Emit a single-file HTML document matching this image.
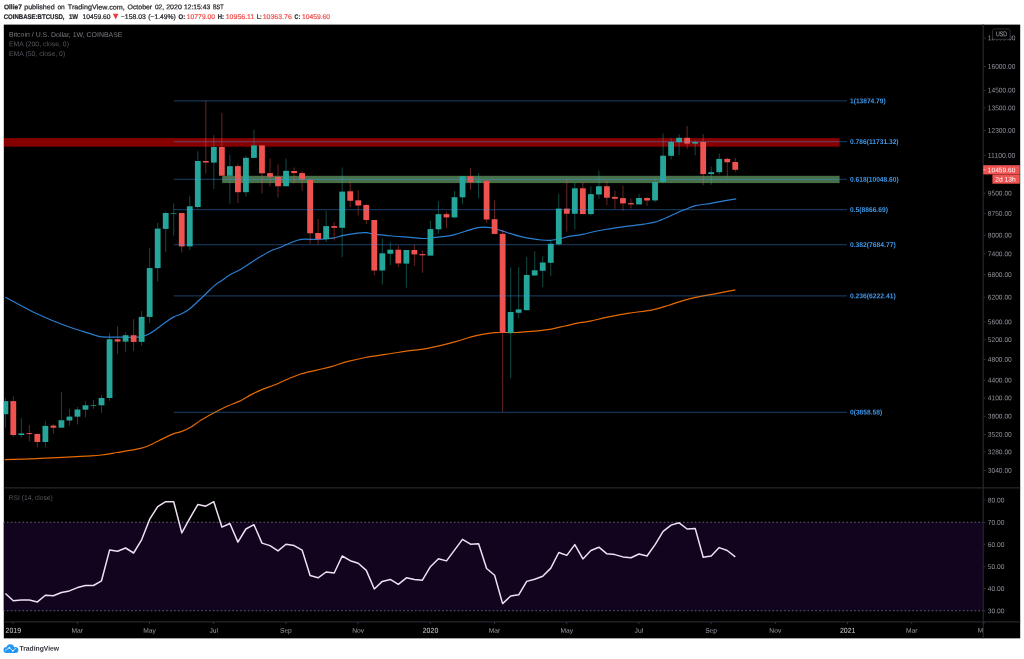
<!DOCTYPE html><html><head><meta charset="utf-8"><title>BTCUSD</title><style>
html,body{margin:0;padding:0;background:#fff}
body{width:1024px;height:659px;position:relative;overflow:hidden;font-family:"Liberation Sans",sans-serif}
#tx{position:absolute;left:0;top:0;width:1024px;height:659px;will-change:transform}
.t{position:absolute;left:0;top:0;white-space:nowrap;line-height:1;margin:0;transform-origin:0 0}

</style></head><body>
<svg width="1024" height="659" viewBox="0 0 1024 659" style="position:absolute;left:0;top:0">
<rect x="3.8" y="24.6" width="1016.4000000000001" height="613.75" fill="#000"/>
<defs><clipPath id="cp"><rect x="3.8" y="24.6" width="979.4000000000001" height="463.29999999999995"/></clipPath><clipPath id="cr"><rect x="3.8" y="487.9" width="979.4000000000001" height="133.89999999999998"/></clipPath></defs>
<rect x="3.8" y="522.3" width="979.4000000000001" height="88.40000000000009" fill="#11041e"/>
<line x1="3.8" y1="522.3" x2="983.2" y2="522.3" stroke="#675a75" stroke-width="1.05" stroke-dasharray="1.7 2.186" stroke-dashoffset="0.8"/>
<line x1="3.8" y1="610.7" x2="983.2" y2="610.7" stroke="#675a75" stroke-width="1.05" stroke-dasharray="1.7 2.186" stroke-dashoffset="0.8"/>
<g clip-path="url(#cp)">
<rect x="3.8" y="138.1" width="835.8000000000001" height="8.599999999999994" fill="#870000"/>
<rect x="222.2" y="175.8" width="617.4000000000001" height="7.299999999999983" fill="#487048"/>
<path d="M4.7,459.7 C9.1,459.5 21.6,459.1 31.2,458.8 C40.9,458.4 53.4,457.7 62.5,457.3 C71.6,456.9 79.4,456.5 85.9,456.1 C92.4,455.7 96.4,455.6 101.6,455.0 C106.8,454.4 110.7,453.6 117.2,452.5 C123.7,451.4 135.1,449.6 140.6,448.3 C146.1,447.1 146.3,446.6 150.0,445.0 C153.7,443.4 158.6,440.8 162.5,438.9 C166.4,437.0 170.3,435.1 173.4,433.9 C176.5,432.7 178.4,432.7 181.2,431.6 C184.1,430.5 187.2,429.3 190.6,427.3 C194.0,425.3 197.4,422.4 201.6,419.8 C205.8,417.2 211.2,414.3 215.6,412.0 C220.0,409.7 224.2,407.6 228.1,405.8 C232.0,404.0 235.2,403.3 239.1,401.4 C243.0,399.5 247.7,396.4 251.6,394.4 C255.5,392.4 258.6,391.0 262.5,389.4 C266.4,387.8 270.8,386.4 275.0,384.7 C279.2,383.0 283.3,380.9 287.5,379.2 C291.7,377.5 295.3,375.8 300.0,374.3 C304.7,372.8 310.4,371.6 315.6,370.3 C320.8,369.0 326.0,368.1 331.2,366.7 C336.5,365.3 341.2,363.2 346.9,361.7 C352.6,360.2 359.1,358.7 365.6,357.5 C372.1,356.3 379.1,355.4 385.9,354.4 C392.7,353.4 399.7,352.2 406.2,351.2 C412.8,350.3 419.3,349.7 425.0,348.8 C430.7,347.8 435.2,346.8 440.3,345.6 C445.4,344.4 450.4,343.1 455.6,341.6 C460.8,340.2 466.6,338.1 471.2,336.9 C475.9,335.6 479.8,334.8 483.8,334.1 C487.7,333.4 491.6,333.0 494.7,332.7 C497.8,332.4 499.1,332.5 502.5,332.5 C505.9,332.5 510.8,332.6 515.0,332.5 C519.2,332.4 523.3,332.0 527.5,331.7 C531.7,331.4 535.8,331.1 540.0,330.6 C544.2,330.1 548.3,329.6 552.5,328.8 C556.7,328.0 560.4,327.0 565.0,326.0 C569.6,325.0 575.8,323.5 580.0,322.7 C584.2,321.9 585.2,322.2 590.0,321.2 C594.8,320.2 602.2,318.2 608.8,316.9 C615.3,315.6 621.8,314.4 629.1,313.2 C636.4,312.0 646.0,311.1 652.5,309.8 C659.0,308.5 662.9,307.1 668.1,305.5 C673.3,303.9 678.5,301.8 683.8,300.3 C689.0,298.8 694.2,297.7 699.4,296.6 C704.6,295.5 709.0,294.9 715.0,293.8 C721.0,292.6 731.9,290.5 735.3,289.8" fill="none" stroke="#e56a00" stroke-width="1.2" stroke-linejoin="round"/>
<path d="M5.5,297.3 C8.0,298.6 15.2,302.5 20.3,305.2 C25.4,307.9 30.7,310.8 35.9,313.3 C41.1,315.8 46.4,318.1 51.6,320.3 C56.8,322.5 62.0,324.4 67.2,326.2 C72.4,328.1 78.4,330.0 82.8,331.4 C87.2,332.8 90.6,333.9 93.8,334.8 C96.9,335.7 96.9,336.5 101.6,336.9 C106.3,337.3 115.9,337.1 121.9,337.2 C127.9,337.2 133.6,337.5 137.5,337.2 C141.4,336.9 143.5,336.0 145.6,335.4 C147.7,334.8 148.2,334.6 150.3,333.3 C152.4,332.0 155.5,329.7 158.1,327.8 C160.7,325.9 163.3,323.8 165.9,322.0 C168.5,320.2 171.2,318.3 173.8,316.9 C176.4,315.5 179.0,315.1 181.6,313.8 C184.2,312.5 186.8,311.1 189.4,309.1 C192.0,307.1 194.6,304.4 197.2,302.0 C199.8,299.6 202.1,297.4 205.0,294.7 C207.9,292.0 211.5,288.0 214.4,285.6 C217.3,283.2 219.6,282.0 222.2,280.2 C224.8,278.4 227.0,276.4 230.0,274.7 C233.0,272.9 235.8,272.1 240.0,269.7 C244.2,267.2 250.0,263.1 255.0,260.0 C260.0,256.9 265.9,253.3 270.0,251.2 C274.1,249.2 276.0,249.1 279.4,247.7 C282.8,246.3 286.7,244.4 290.3,243.0 C293.9,241.6 296.8,240.0 301.2,239.4 C305.7,238.8 311.7,239.6 316.9,239.4 C322.1,239.2 328.1,238.9 332.5,238.2 C336.9,237.5 339.2,236.2 343.4,235.4 C347.6,234.6 353.6,233.6 357.5,233.1 C361.4,232.6 363.9,232.4 366.5,232.6 C369.1,232.8 369.9,233.6 373.1,234.1 C376.3,234.6 381.4,234.9 385.6,235.3 C389.8,235.7 393.9,236.2 398.1,236.5 C402.3,236.8 406.4,237.1 410.6,237.4 C414.8,237.7 419.5,238.5 423.3,238.5 C427.1,238.5 429.9,237.9 433.5,237.6 C437.1,237.2 441.7,236.9 445.2,236.4 C448.7,235.9 451.2,235.5 454.6,234.6 C458.0,233.7 461.7,232.4 465.6,231.2 C469.5,230.1 474.0,228.2 478.1,227.6 C482.2,227.0 486.8,227.1 490.5,227.6 C494.2,228.1 497.2,229.4 500.5,230.4 C503.8,231.4 506.8,232.4 510.0,233.4 C513.2,234.4 516.4,235.5 520.0,236.4 C523.6,237.3 527.9,238.1 531.5,238.7 C535.1,239.3 538.3,239.7 541.5,240.0 C544.7,240.3 547.5,240.5 550.5,240.3 C553.5,240.1 555.9,239.7 559.2,239.0 C562.5,238.3 566.4,237.0 570.3,236.2 C574.2,235.4 578.4,235.2 582.8,234.3 C587.2,233.4 591.9,232.0 596.9,231.0 C601.9,230.0 607.3,229.1 612.5,228.3 C617.7,227.5 622.9,226.9 628.1,226.2 C633.3,225.6 639.3,224.9 643.8,224.2 C648.2,223.5 651.1,223.2 654.7,222.2 C658.3,221.2 662.2,219.4 665.6,218.0 C669.0,216.6 671.7,215.2 675.0,213.8 C678.3,212.3 682.1,210.6 685.5,209.3 C688.9,208.0 691.2,206.7 695.5,205.7 C699.8,204.7 706.3,204.2 711.0,203.4 C715.7,202.6 719.5,201.7 723.8,200.9 C728.0,200.1 734.2,199.1 736.2,198.8" fill="none" stroke="#2b7fd1" stroke-width="1.2" stroke-linejoin="round"/>
<line x1="5.42" y1="398.3" x2="5.42" y2="427.5" stroke="#26a69a" stroke-width="0.95" opacity="0.46"/>
<rect x="2.52" y="401.1" width="5.8" height="13.10" fill="#26a69a"/>
<line x1="13.29" y1="396.4" x2="13.29" y2="436.9" stroke="#ef5350" stroke-width="0.95" opacity="0.46"/>
<rect x="10.39" y="401.1" width="5.8" height="33.90" fill="#ef5350"/>
<line x1="21.31" y1="418.1" x2="21.31" y2="437.7" stroke="#26a69a" stroke-width="0.95" opacity="0.46"/>
<rect x="18.41" y="433.4" width="5.8" height="1.60" fill="#26a69a"/>
<line x1="29.34" y1="425.2" x2="29.34" y2="441.6" stroke="#ef5350" stroke-width="0.95" opacity="0.46"/>
<rect x="26.44" y="433.1" width="5.8" height="1.00" fill="#ef5350"/>
<line x1="37.36" y1="433.9" x2="37.36" y2="447.5" stroke="#ef5350" stroke-width="0.95" opacity="0.46"/>
<rect x="34.46" y="433.9" width="5.8" height="8.10" fill="#ef5350"/>
<line x1="45.38" y1="421.4" x2="45.38" y2="447.5" stroke="#26a69a" stroke-width="0.95" opacity="0.46"/>
<rect x="42.48" y="425.9" width="5.8" height="16.10" fill="#26a69a"/>
<line x1="53.40" y1="424.1" x2="53.40" y2="433.9" stroke="#ef5350" stroke-width="0.95" opacity="0.46"/>
<rect x="50.50" y="425.6" width="5.8" height="2.10" fill="#ef5350"/>
<line x1="61.42" y1="392.0" x2="61.42" y2="427.7" stroke="#26a69a" stroke-width="0.95" opacity="0.46"/>
<rect x="58.52" y="420.2" width="5.8" height="7.50" fill="#26a69a"/>
<line x1="69.45" y1="408.9" x2="69.45" y2="425.9" stroke="#26a69a" stroke-width="0.95" opacity="0.46"/>
<rect x="66.55" y="416.6" width="5.8" height="3.90" fill="#26a69a"/>
<line x1="77.47" y1="406.9" x2="77.47" y2="424.5" stroke="#26a69a" stroke-width="0.95" opacity="0.46"/>
<rect x="74.57" y="409.5" width="5.8" height="7.20" fill="#26a69a"/>
<line x1="85.49" y1="401.1" x2="85.49" y2="417.3" stroke="#26a69a" stroke-width="0.95" opacity="0.46"/>
<rect x="82.59" y="405.3" width="5.8" height="4.40" fill="#26a69a"/>
<line x1="93.51" y1="399.8" x2="93.51" y2="408.75" stroke="#26a69a" stroke-width="0.95" opacity="0.46"/>
<rect x="90.61" y="405.0" width="5.8" height="0.65" fill="#26a69a"/>
<line x1="101.53" y1="395.2" x2="101.53" y2="412.7" stroke="#26a69a" stroke-width="0.95" opacity="0.46"/>
<rect x="98.63" y="398.0" width="5.8" height="7.30" fill="#26a69a"/>
<line x1="109.56" y1="333.3" x2="109.56" y2="400.6" stroke="#26a69a" stroke-width="0.95" opacity="0.46"/>
<rect x="106.66" y="339.2" width="5.8" height="58.80" fill="#26a69a"/>
<line x1="117.58" y1="326.3" x2="117.58" y2="353.8" stroke="#ef5350" stroke-width="0.95" opacity="0.46"/>
<rect x="114.68" y="339.2" width="5.8" height="2.40" fill="#ef5350"/>
<line x1="125.60" y1="332.2" x2="125.60" y2="351.7" stroke="#26a69a" stroke-width="0.95" opacity="0.46"/>
<rect x="122.70" y="335.2" width="5.8" height="6.40" fill="#26a69a"/>
<line x1="133.62" y1="319.2" x2="133.62" y2="350.9" stroke="#ef5350" stroke-width="0.95" opacity="0.46"/>
<rect x="130.72" y="335.2" width="5.8" height="6.70" fill="#ef5350"/>
<line x1="141.64" y1="311.1" x2="141.64" y2="345.8" stroke="#26a69a" stroke-width="0.95" opacity="0.46"/>
<rect x="138.74" y="316.9" width="5.8" height="25.00" fill="#26a69a"/>
<line x1="149.67" y1="247.8" x2="149.67" y2="323.1" stroke="#26a69a" stroke-width="0.95" opacity="0.46"/>
<rect x="146.77" y="268.1" width="5.8" height="48.80" fill="#26a69a"/>
<line x1="157.69" y1="222.7" x2="157.69" y2="281.7" stroke="#26a69a" stroke-width="0.95" opacity="0.46"/>
<rect x="154.79" y="228.6" width="5.8" height="39.50" fill="#26a69a"/>
<line x1="165.71" y1="211.7" x2="165.71" y2="252.0" stroke="#26a69a" stroke-width="0.95" opacity="0.46"/>
<rect x="162.81" y="213.0" width="5.8" height="15.90" fill="#26a69a"/>
<line x1="173.73" y1="203.4" x2="173.73" y2="235.6" stroke="#26a69a" stroke-width="0.95" opacity="0.46"/>
<rect x="170.83" y="213.0" width="5.8" height="0.65" fill="#26a69a"/>
<line x1="181.75" y1="213.0" x2="181.75" y2="252.5" stroke="#ef5350" stroke-width="0.95" opacity="0.46"/>
<rect x="178.85" y="213.0" width="5.8" height="33.40" fill="#ef5350"/>
<line x1="189.78" y1="195.6" x2="189.78" y2="250.0" stroke="#26a69a" stroke-width="0.95" opacity="0.46"/>
<rect x="186.88" y="206.3" width="5.8" height="40.10" fill="#26a69a"/>
<line x1="197.80" y1="151.2" x2="197.80" y2="208.6" stroke="#26a69a" stroke-width="0.95" opacity="0.46"/>
<rect x="194.90" y="161.0" width="5.8" height="46.00" fill="#26a69a"/>
<line x1="205.82" y1="101.1" x2="205.82" y2="173.6" stroke="#ef5350" stroke-width="0.95" opacity="0.46"/>
<rect x="202.92" y="161.0" width="5.8" height="1.50" fill="#ef5350"/>
<line x1="213.84" y1="135.3" x2="213.84" y2="189.0" stroke="#26a69a" stroke-width="0.95" opacity="0.46"/>
<rect x="210.94" y="147.0" width="5.8" height="15.60" fill="#26a69a"/>
<line x1="221.86" y1="112.8" x2="221.86" y2="175.7" stroke="#ef5350" stroke-width="0.95" opacity="0.46"/>
<rect x="218.96" y="147.0" width="5.8" height="28.70" fill="#ef5350"/>
<line x1="229.89" y1="154.7" x2="229.89" y2="203.8" stroke="#26a69a" stroke-width="0.95" opacity="0.46"/>
<rect x="226.99" y="166.2" width="5.8" height="9.60" fill="#26a69a"/>
<line x1="237.91" y1="164.1" x2="237.91" y2="203.1" stroke="#ef5350" stroke-width="0.95" opacity="0.46"/>
<rect x="235.01" y="166.1" width="5.8" height="26.10" fill="#ef5350"/>
<line x1="245.93" y1="155.5" x2="245.93" y2="196.6" stroke="#26a69a" stroke-width="0.95" opacity="0.46"/>
<rect x="243.03" y="157.8" width="5.8" height="34.40" fill="#26a69a"/>
<line x1="253.95" y1="129.8" x2="253.95" y2="157.9" stroke="#26a69a" stroke-width="0.95" opacity="0.46"/>
<rect x="251.05" y="145.4" width="5.8" height="12.50" fill="#26a69a"/>
<line x1="261.97" y1="145.4" x2="261.97" y2="193.5" stroke="#ef5350" stroke-width="0.95" opacity="0.46"/>
<rect x="259.07" y="145.4" width="5.8" height="27.90" fill="#ef5350"/>
<line x1="270.00" y1="158.4" x2="270.00" y2="186.5" stroke="#ef5350" stroke-width="0.95" opacity="0.46"/>
<rect x="267.10" y="173.1" width="5.8" height="3.70" fill="#ef5350"/>
<line x1="278.02" y1="164.4" x2="278.02" y2="197.7" stroke="#ef5350" stroke-width="0.95" opacity="0.46"/>
<rect x="275.12" y="176.9" width="5.8" height="9.35" fill="#ef5350"/>
<line x1="286.04" y1="158.6" x2="286.04" y2="186.25" stroke="#26a69a" stroke-width="0.95" opacity="0.46"/>
<rect x="283.14" y="170.8" width="5.8" height="15.45" fill="#26a69a"/>
<line x1="294.06" y1="167.5" x2="294.06" y2="183.5" stroke="#ef5350" stroke-width="0.95" opacity="0.46"/>
<rect x="291.16" y="171.0" width="5.8" height="2.10" fill="#ef5350"/>
<line x1="302.08" y1="171.2" x2="302.08" y2="190.8" stroke="#ef5350" stroke-width="0.95" opacity="0.46"/>
<rect x="299.18" y="173.1" width="5.8" height="6.20" fill="#ef5350"/>
<line x1="310.11" y1="179.7" x2="310.11" y2="243.75" stroke="#ef5350" stroke-width="0.95" opacity="0.46"/>
<rect x="307.21" y="179.7" width="5.8" height="53.60" fill="#ef5350"/>
<line x1="318.13" y1="218.75" x2="318.13" y2="244.5" stroke="#ef5350" stroke-width="0.95" opacity="0.46"/>
<rect x="315.23" y="233.0" width="5.8" height="6.10" fill="#ef5350"/>
<line x1="326.15" y1="210.9" x2="326.15" y2="242.2" stroke="#26a69a" stroke-width="0.95" opacity="0.46"/>
<rect x="323.25" y="226.1" width="5.8" height="13.00" fill="#26a69a"/>
<line x1="334.17" y1="222.2" x2="334.17" y2="240.6" stroke="#ef5350" stroke-width="0.95" opacity="0.46"/>
<rect x="331.27" y="226.1" width="5.8" height="1.70" fill="#ef5350"/>
<line x1="342.19" y1="167.5" x2="342.19" y2="257.2" stroke="#26a69a" stroke-width="0.95" opacity="0.46"/>
<rect x="339.29" y="191.6" width="5.8" height="36.20" fill="#26a69a"/>
<line x1="350.22" y1="182.0" x2="350.22" y2="207.5" stroke="#ef5350" stroke-width="0.95" opacity="0.46"/>
<rect x="347.32" y="191.25" width="5.8" height="9.55" fill="#ef5350"/>
<line x1="358.24" y1="190.2" x2="358.24" y2="215.6" stroke="#ef5350" stroke-width="0.95" opacity="0.46"/>
<rect x="355.34" y="200.3" width="5.8" height="5.20" fill="#ef5350"/>
<line x1="366.26" y1="203.9" x2="366.26" y2="223.9" stroke="#ef5350" stroke-width="0.95" opacity="0.46"/>
<rect x="363.36" y="205.0" width="5.8" height="15.00" fill="#ef5350"/>
<line x1="374.28" y1="220.0" x2="374.28" y2="275.2" stroke="#ef5350" stroke-width="0.95" opacity="0.46"/>
<rect x="371.38" y="220.0" width="5.8" height="50.50" fill="#ef5350"/>
<line x1="382.30" y1="238.4" x2="382.30" y2="284.5" stroke="#26a69a" stroke-width="0.95" opacity="0.46"/>
<rect x="379.40" y="253.3" width="5.8" height="17.20" fill="#26a69a"/>
<line x1="390.33" y1="241.6" x2="390.33" y2="265.0" stroke="#26a69a" stroke-width="0.95" opacity="0.46"/>
<rect x="387.43" y="249.7" width="5.8" height="4.05" fill="#26a69a"/>
<line x1="398.35" y1="245.5" x2="398.35" y2="267.0" stroke="#ef5350" stroke-width="0.95" opacity="0.46"/>
<rect x="395.45" y="249.7" width="5.8" height="13.70" fill="#ef5350"/>
<line x1="406.37" y1="250.0" x2="406.37" y2="287.7" stroke="#26a69a" stroke-width="0.95" opacity="0.46"/>
<rect x="403.47" y="250.0" width="5.8" height="13.60" fill="#26a69a"/>
<line x1="414.39" y1="244.7" x2="414.39" y2="265.8" stroke="#ef5350" stroke-width="0.95" opacity="0.46"/>
<rect x="411.49" y="250.0" width="5.8" height="4.40" fill="#ef5350"/>
<line x1="422.41" y1="250.6" x2="422.41" y2="272.8" stroke="#ef5350" stroke-width="0.95" opacity="0.46"/>
<rect x="419.51" y="254.1" width="5.8" height="1.20" fill="#ef5350"/>
<line x1="430.44" y1="220.8" x2="430.44" y2="255.6" stroke="#26a69a" stroke-width="0.95" opacity="0.46"/>
<rect x="427.54" y="229.1" width="5.8" height="26.50" fill="#26a69a"/>
<line x1="438.46" y1="201.25" x2="438.46" y2="233.7" stroke="#26a69a" stroke-width="0.95" opacity="0.46"/>
<rect x="435.56" y="214.1" width="5.8" height="15.20" fill="#26a69a"/>
<line x1="446.48" y1="211.7" x2="446.48" y2="228.2" stroke="#ef5350" stroke-width="0.95" opacity="0.46"/>
<rect x="443.58" y="214.1" width="5.8" height="3.30" fill="#ef5350"/>
<line x1="454.50" y1="190.9" x2="454.50" y2="218.4" stroke="#26a69a" stroke-width="0.95" opacity="0.46"/>
<rect x="451.60" y="197.2" width="5.8" height="20.20" fill="#26a69a"/>
<line x1="462.52" y1="176.25" x2="462.52" y2="204.2" stroke="#26a69a" stroke-width="0.95" opacity="0.46"/>
<rect x="459.62" y="176.25" width="5.8" height="21.05" fill="#26a69a"/>
<line x1="470.55" y1="168.0" x2="470.55" y2="189.8" stroke="#ef5350" stroke-width="0.95" opacity="0.46"/>
<rect x="467.65" y="176.25" width="5.8" height="6.05" fill="#ef5350"/>
<line x1="478.57" y1="173.1" x2="478.57" y2="198.4" stroke="#26a69a" stroke-width="0.95" opacity="0.46"/>
<rect x="475.67" y="181.25" width="5.8" height="0.95" fill="#26a69a"/>
<line x1="486.59" y1="179.7" x2="486.59" y2="222.7" stroke="#ef5350" stroke-width="0.95" opacity="0.46"/>
<rect x="483.69" y="180.9" width="5.8" height="38.60" fill="#ef5350"/>
<line x1="494.61" y1="200.3" x2="494.61" y2="234.4" stroke="#ef5350" stroke-width="0.95" opacity="0.46"/>
<rect x="491.71" y="219.2" width="5.8" height="14.70" fill="#ef5350"/>
<line x1="502.63" y1="229.7" x2="502.63" y2="411.9" stroke="#ef5350" stroke-width="0.95" opacity="0.46"/>
<rect x="499.73" y="233.8" width="5.8" height="99.20" fill="#ef5350"/>
<line x1="510.66" y1="267.5" x2="510.66" y2="378.3" stroke="#26a69a" stroke-width="0.95" opacity="0.46"/>
<rect x="507.76" y="312.0" width="5.8" height="21.00" fill="#26a69a"/>
<line x1="518.68" y1="267.2" x2="518.68" y2="318.2" stroke="#26a69a" stroke-width="0.95" opacity="0.46"/>
<rect x="515.78" y="309.4" width="5.8" height="3.40" fill="#26a69a"/>
<line x1="526.70" y1="257.0" x2="526.70" y2="310.6" stroke="#26a69a" stroke-width="0.95" opacity="0.46"/>
<rect x="523.80" y="275.0" width="5.8" height="35.20" fill="#26a69a"/>
<line x1="534.72" y1="251.25" x2="534.72" y2="275.8" stroke="#26a69a" stroke-width="0.95" opacity="0.46"/>
<rect x="531.82" y="270.3" width="5.8" height="5.20" fill="#26a69a"/>
<line x1="542.74" y1="256.25" x2="542.74" y2="287.2" stroke="#26a69a" stroke-width="0.95" opacity="0.46"/>
<rect x="539.84" y="262.5" width="5.8" height="8.30" fill="#26a69a"/>
<line x1="550.77" y1="240.6" x2="550.77" y2="276.25" stroke="#26a69a" stroke-width="0.95" opacity="0.46"/>
<rect x="547.87" y="243.75" width="5.8" height="19.05" fill="#26a69a"/>
<line x1="558.79" y1="193.75" x2="558.79" y2="245.7" stroke="#26a69a" stroke-width="0.95" opacity="0.46"/>
<rect x="555.89" y="208.6" width="5.8" height="35.60" fill="#26a69a"/>
<line x1="566.81" y1="178.9" x2="566.81" y2="231.6" stroke="#ef5350" stroke-width="0.95" opacity="0.46"/>
<rect x="563.91" y="208.6" width="5.8" height="5.15" fill="#ef5350"/>
<line x1="574.83" y1="182.8" x2="574.83" y2="229.4" stroke="#26a69a" stroke-width="0.95" opacity="0.46"/>
<rect x="571.93" y="188.3" width="5.8" height="25.45" fill="#26a69a"/>
<line x1="582.85" y1="182.0" x2="582.85" y2="214.1" stroke="#ef5350" stroke-width="0.95" opacity="0.46"/>
<rect x="579.95" y="188.3" width="5.8" height="25.80" fill="#ef5350"/>
<line x1="590.88" y1="186.25" x2="590.88" y2="215.6" stroke="#26a69a" stroke-width="0.95" opacity="0.46"/>
<rect x="587.98" y="194.1" width="5.8" height="20.00" fill="#26a69a"/>
<line x1="598.90" y1="170.3" x2="598.90" y2="198.75" stroke="#26a69a" stroke-width="0.95" opacity="0.46"/>
<rect x="596.00" y="186.25" width="5.8" height="8.25" fill="#26a69a"/>
<line x1="606.92" y1="180.5" x2="606.92" y2="205.0" stroke="#ef5350" stroke-width="0.95" opacity="0.46"/>
<rect x="604.02" y="186.25" width="5.8" height="11.45" fill="#ef5350"/>
<line x1="614.94" y1="190.6" x2="614.94" y2="209.1" stroke="#ef5350" stroke-width="0.95" opacity="0.46"/>
<rect x="612.04" y="196.9" width="5.8" height="1.85" fill="#ef5350"/>
<line x1="622.96" y1="185.6" x2="622.96" y2="210.9" stroke="#ef5350" stroke-width="0.95" opacity="0.46"/>
<rect x="620.06" y="198.1" width="5.8" height="5.30" fill="#ef5350"/>
<line x1="630.99" y1="198.4" x2="630.99" y2="208.6" stroke="#ef5350" stroke-width="0.95" opacity="0.46"/>
<rect x="628.09" y="203.1" width="5.8" height="1.30" fill="#ef5350"/>
<line x1="639.01" y1="193.75" x2="639.01" y2="204.4" stroke="#26a69a" stroke-width="0.95" opacity="0.46"/>
<rect x="636.11" y="198.0" width="5.8" height="6.40" fill="#26a69a"/>
<line x1="647.03" y1="196.9" x2="647.03" y2="205.8" stroke="#ef5350" stroke-width="0.95" opacity="0.46"/>
<rect x="644.13" y="198.0" width="5.8" height="2.50" fill="#ef5350"/>
<line x1="655.05" y1="177.4" x2="655.05" y2="202.4" stroke="#26a69a" stroke-width="0.95" opacity="0.46"/>
<rect x="652.15" y="182.0" width="5.8" height="18.40" fill="#26a69a"/>
<line x1="663.07" y1="133.4" x2="663.07" y2="183.1" stroke="#26a69a" stroke-width="0.95" opacity="0.46"/>
<rect x="660.17" y="155.7" width="5.8" height="26.30" fill="#26a69a"/>
<line x1="671.10" y1="137.8" x2="671.10" y2="159.6" stroke="#26a69a" stroke-width="0.95" opacity="0.46"/>
<rect x="668.20" y="142.0" width="5.8" height="13.80" fill="#26a69a"/>
<line x1="679.12" y1="134.2" x2="679.12" y2="155.0" stroke="#26a69a" stroke-width="0.95" opacity="0.46"/>
<rect x="676.22" y="137.8" width="5.8" height="4.50" fill="#26a69a"/>
<line x1="687.14" y1="126.1" x2="687.14" y2="149.1" stroke="#ef5350" stroke-width="0.95" opacity="0.46"/>
<rect x="684.24" y="137.8" width="5.8" height="5.80" fill="#ef5350"/>
<line x1="695.16" y1="140.5" x2="695.16" y2="155.2" stroke="#26a69a" stroke-width="0.95" opacity="0.46"/>
<rect x="692.26" y="142.0" width="5.8" height="1.60" fill="#26a69a"/>
<line x1="703.18" y1="134.2" x2="703.18" y2="185.1" stroke="#ef5350" stroke-width="0.95" opacity="0.46"/>
<rect x="700.28" y="142.0" width="5.8" height="32.10" fill="#ef5350"/>
<line x1="711.21" y1="166.6" x2="711.21" y2="184.7" stroke="#26a69a" stroke-width="0.95" opacity="0.46"/>
<rect x="708.31" y="172.2" width="5.8" height="1.90" fill="#26a69a"/>
<line x1="719.23" y1="153.4" x2="719.23" y2="174.4" stroke="#26a69a" stroke-width="0.95" opacity="0.46"/>
<rect x="716.33" y="158.9" width="5.8" height="13.30" fill="#26a69a"/>
<line x1="727.25" y1="157.7" x2="727.25" y2="177.2" stroke="#ef5350" stroke-width="0.95" opacity="0.46"/>
<rect x="724.35" y="158.9" width="5.8" height="3.40" fill="#ef5350"/>
<line x1="735.27" y1="158.1" x2="735.27" y2="171.7" stroke="#ef5350" stroke-width="0.95" opacity="0.46"/>
<rect x="732.37" y="162.0" width="5.8" height="7.80" fill="#ef5350"/>
<line x1="173.75" y1="100.85" x2="847" y2="100.85" stroke="#3f9af0" stroke-width="1.3" opacity="0.34"/>
<line x1="173.75" y1="141.6" x2="847" y2="141.6" stroke="#3f9af0" stroke-width="1.3" opacity="0.34"/>
<line x1="173.75" y1="179.3" x2="847" y2="179.3" stroke="#3f9af0" stroke-width="1.3" opacity="0.34"/>
<line x1="173.75" y1="209.6" x2="847" y2="209.6" stroke="#3f9af0" stroke-width="1.3" opacity="0.34"/>
<line x1="173.75" y1="244.65" x2="847" y2="244.65" stroke="#3f9af0" stroke-width="1.3" opacity="0.34"/>
<line x1="173.75" y1="295.9" x2="847" y2="295.9" stroke="#3f9af0" stroke-width="1.3" opacity="0.34"/>
<line x1="173.75" y1="412.4" x2="847" y2="412.4" stroke="#3f9af0" stroke-width="1.3" opacity="0.34"/>
</g>
<g clip-path="url(#cr)">
<path d="M5.4,593.5 L13.3,600.7 L21.3,599.9 L29.3,599.9 L37.4,601.9 L45.4,595.2 L53.4,595.8 L61.4,592.5 L69.4,590.9 L77.5,587.6 L85.5,585.5 L93.5,585.5 L101.5,580.8 L109.6,550.1 L117.6,551.3 L125.6,548.0 L133.6,553.0 L141.6,539.8 L149.7,519.2 L157.7,506.6 L165.7,501.7 L173.7,501.7 L181.8,532.9 L189.8,518.3 L197.8,504.6 L205.8,506.2 L213.8,501.7 L221.9,527.1 L229.9,523.5 L237.9,542.1 L245.9,529.0 L254.0,524.7 L262.0,543.1 L270.0,545.6 L278.0,550.9 L286.0,544.2 L294.1,545.6 L302.1,550.1 L310.1,575.5 L318.1,577.8 L326.1,572.0 L334.2,573.0 L342.2,556.0 L350.2,560.7 L358.2,563.2 L366.3,570.4 L374.3,589.0 L382.3,581.4 L390.3,579.4 L398.3,584.3 L406.4,577.8 L414.4,579.4 L422.4,580.2 L430.4,566.7 L438.5,558.7 L446.5,560.9 L454.5,550.1 L462.5,539.4 L470.5,544.2 L478.6,543.7 L486.6,568.5 L494.6,575.3 L502.6,603.6 L510.7,596.0 L518.7,594.8 L526.7,581.4 L534.7,579.2 L542.7,576.3 L550.8,568.1 L558.8,552.5 L566.8,555.4 L574.8,544.6 L582.9,558.9 L590.9,550.5 L598.9,547.2 L606.9,553.8 L614.9,554.6 L623.0,556.9 L631.0,557.7 L639.0,554.0 L647.0,556.0 L655.1,544.6 L663.1,531.4 L671.1,525.1 L679.1,522.8 L687.1,529.0 L695.2,528.4 L703.2,557.3 L711.2,556.0 L719.2,547.6 L727.2,550.5 L735.3,556.9" fill="none" stroke="#efe0f2" stroke-width="1.5" stroke-linejoin="round"/>
</g>
<line x1="983.2" y1="24.6" x2="983.2" y2="638.35" stroke="#25272d" stroke-width="1.2"/>
<line x1="3.8" y1="487.9" x2="1020.2" y2="487.9" stroke="#25272d" stroke-width="1.3"/>
<line x1="3.8" y1="621.8" x2="1020.2" y2="621.8" stroke="#25272d" stroke-width="1.2"/>
<line x1="983.2" y1="38" x2="985.6" y2="38" stroke="#33363d" stroke-width="0.9"/>
<line x1="983.2" y1="66.5" x2="985.6" y2="66.5" stroke="#33363d" stroke-width="0.9"/>
<line x1="983.2" y1="90.3" x2="985.6" y2="90.3" stroke="#33363d" stroke-width="0.9"/>
<line x1="983.2" y1="107.9" x2="985.6" y2="107.9" stroke="#33363d" stroke-width="0.9"/>
<line x1="983.2" y1="130.5" x2="985.6" y2="130.5" stroke="#33363d" stroke-width="0.9"/>
<line x1="983.2" y1="155.4" x2="985.6" y2="155.4" stroke="#33363d" stroke-width="0.9"/>
<line x1="983.2" y1="193.1" x2="985.6" y2="193.1" stroke="#33363d" stroke-width="0.9"/>
<line x1="983.2" y1="213.4" x2="985.6" y2="213.4" stroke="#33363d" stroke-width="0.9"/>
<line x1="983.2" y1="235.1" x2="985.6" y2="235.1" stroke="#33363d" stroke-width="0.9"/>
<line x1="983.2" y1="254" x2="985.6" y2="254" stroke="#33363d" stroke-width="0.9"/>
<line x1="983.2" y1="274.6" x2="985.6" y2="274.6" stroke="#33363d" stroke-width="0.9"/>
<line x1="983.2" y1="297.3" x2="985.6" y2="297.3" stroke="#33363d" stroke-width="0.9"/>
<line x1="983.2" y1="321.9" x2="985.6" y2="321.9" stroke="#33363d" stroke-width="0.9"/>
<line x1="983.2" y1="339.8" x2="985.6" y2="339.8" stroke="#33363d" stroke-width="0.9"/>
<line x1="983.2" y1="359.4" x2="985.6" y2="359.4" stroke="#33363d" stroke-width="0.9"/>
<line x1="983.2" y1="380.2" x2="985.6" y2="380.2" stroke="#33363d" stroke-width="0.9"/>
<line x1="983.2" y1="397.9" x2="985.6" y2="397.9" stroke="#33363d" stroke-width="0.9"/>
<line x1="983.2" y1="416.3" x2="985.6" y2="416.3" stroke="#33363d" stroke-width="0.9"/>
<line x1="983.2" y1="434.5" x2="985.6" y2="434.5" stroke="#33363d" stroke-width="0.9"/>
<line x1="983.2" y1="452" x2="985.6" y2="452" stroke="#33363d" stroke-width="0.9"/>
<line x1="983.2" y1="470.4" x2="985.6" y2="470.4" stroke="#33363d" stroke-width="0.9"/>
<line x1="983.2" y1="500.1" x2="985.6" y2="500.1" stroke="#33363d" stroke-width="0.9"/>
<line x1="983.2" y1="522.4" x2="985.6" y2="522.4" stroke="#33363d" stroke-width="0.9"/>
<line x1="983.2" y1="544.7" x2="985.6" y2="544.7" stroke="#33363d" stroke-width="0.9"/>
<line x1="983.2" y1="566.7" x2="985.6" y2="566.7" stroke="#33363d" stroke-width="0.9"/>
<line x1="983.2" y1="588.7" x2="985.6" y2="588.7" stroke="#33363d" stroke-width="0.9"/>
<line x1="983.2" y1="611" x2="985.6" y2="611" stroke="#33363d" stroke-width="0.9"/>
<line x1="13.1" y1="621.8" x2="13.1" y2="624.1999999999999" stroke="#33363d" stroke-width="0.9"/>
<line x1="77.3" y1="621.8" x2="77.3" y2="624.1999999999999" stroke="#33363d" stroke-width="0.9"/>
<line x1="149.5" y1="621.8" x2="149.5" y2="624.1999999999999" stroke="#33363d" stroke-width="0.9"/>
<line x1="213.7" y1="621.8" x2="213.7" y2="624.1999999999999" stroke="#33363d" stroke-width="0.9"/>
<line x1="285.9" y1="621.8" x2="285.9" y2="624.1999999999999" stroke="#33363d" stroke-width="0.9"/>
<line x1="358.1" y1="621.8" x2="358.1" y2="624.1999999999999" stroke="#33363d" stroke-width="0.9"/>
<line x1="430.3" y1="621.8" x2="430.3" y2="624.1999999999999" stroke="#33363d" stroke-width="0.9"/>
<line x1="494.5" y1="621.8" x2="494.5" y2="624.1999999999999" stroke="#33363d" stroke-width="0.9"/>
<line x1="566.7" y1="621.8" x2="566.7" y2="624.1999999999999" stroke="#33363d" stroke-width="0.9"/>
<line x1="638.9" y1="621.8" x2="638.9" y2="624.1999999999999" stroke="#33363d" stroke-width="0.9"/>
<line x1="711.1" y1="621.8" x2="711.1" y2="624.1999999999999" stroke="#33363d" stroke-width="0.9"/>
<line x1="775.3" y1="621.8" x2="775.3" y2="624.1999999999999" stroke="#33363d" stroke-width="0.9"/>
<line x1="847.5" y1="621.8" x2="847.5" y2="624.1999999999999" stroke="#33363d" stroke-width="0.9"/>
<line x1="911.7" y1="621.8" x2="911.7" y2="624.1999999999999" stroke="#33363d" stroke-width="0.9"/>
<line x1="983.9" y1="621.8" x2="983.9" y2="624.1999999999999" stroke="#33363d" stroke-width="0.9"/>
<rect x="983.2" y="165.2" width="36.6" height="9.2" fill="#ef5350"/>
<rect x="992.4" y="174.5" width="27.4" height="9.2" fill="#ef5350"/>
<rect x="983.2" y="169.5" width="2.3" height="0.8" fill="#f9bdbb"/>
<path d="M112.9 13.8h5.6l-2.8 5.6z" fill="#ea3e3e"/>
<g fill="#2196f3"><circle cx="6.5" cy="649.95" r="3.05"/><circle cx="10.3" cy="647.9" r="3.75"/><circle cx="15.4" cy="650.05" r="2.95"/><rect x="6.5" y="649" width="8.9" height="4"/></g>
<path d="M5 650.6L9.4 647.7L12.8 650.8L16.1 648" fill="none" stroke="#fff" stroke-width="0.75" stroke-linejoin="round" opacity="0.95"/>
<circle cx="9.4" cy="647.7" r="0.85" fill="#fff"/><circle cx="12.8" cy="650.8" r="0.85" fill="#fff"/>
</svg>
<div id="tx">
<div class="t" style="width:5.3px;overflow:hidden;font-size:6.7px;color:#9c9fa7;transform:translate(977.8px,627.6px) rotate(0.05deg)">May</div>
<div class="t" id="t0" style="font-size:6.8px;color:#25252b;-webkit-text-stroke:0.22px;transform:translate(3.9px,4.35px) rotate(0.05deg) scaleX(0.9718)"><b>Ollie7</b></div>
<div class="t" id="t1" style="font-size:6.8px;color:#25252b;-webkit-text-stroke:0.22px;transform:translate(24.2px,4.35px) rotate(0.05deg) scaleX(1.0476)">published</div>
<div class="t" id="t2" style="font-size:6.8px;color:#25252b;-webkit-text-stroke:0.22px;transform:translate(57.4px,4.35px) rotate(0.05deg) scaleX(0.9777)">on</div>
<div class="t" id="t3" style="font-size:6.8px;color:#25252b;-webkit-text-stroke:0.22px;transform:translate(67.8px,4.35px) rotate(0.05deg) scaleX(1.0622)">TradingView.com,</div>
<div class="t" id="t4" style="font-size:6.8px;color:#25252b;-webkit-text-stroke:0.22px;transform:translate(127.5px,4.35px) rotate(0.05deg) scaleX(1.0209)">October</div>
<div class="t" id="t5" style="font-size:6.8px;color:#25252b;-webkit-text-stroke:0.22px;transform:translate(154.9px,4.35px) rotate(0.05deg) scaleX(0.9620)">02,</div>
<div class="t" id="t6" style="font-size:6.8px;color:#25252b;-webkit-text-stroke:0.22px;transform:translate(166.2px,4.35px) rotate(0.05deg) scaleX(1.0310)">2020</div>
<div class="t" id="t7" style="font-size:6.8px;color:#25252b;-webkit-text-stroke:0.22px;transform:translate(183.9px,4.35px) rotate(0.05deg) scaleX(0.9934)">12:15:43</div>
<div class="t" id="t8" style="font-size:6.8px;color:#25252b;-webkit-text-stroke:0.22px;transform:translate(212.9px,4.35px) rotate(0.05deg) scaleX(0.8091)">BST</div>
<div class="t" id="t9" style="font-size:6.8px;color:#25252b;-webkit-text-stroke:0.22px;transform:translate(3.65px,14.05px) rotate(0.05deg) scaleX(0.8901)"><b>COINBASE:BTCUSD,</b></div>
<div class="t" id="t10" style="font-size:6.8px;color:#25252b;-webkit-text-stroke:0.22px;transform:translate(68.9px,14.05px) rotate(0.05deg) scaleX(0.9012)"><b>1W</b></div>
<div class="t" id="t11" style="font-size:6.8px;color:#25252b;-webkit-text-stroke:0.22px;transform:translate(82.6px,14.05px) rotate(0.05deg) scaleX(0.9836)">10459.60</div>
<div class="t" id="t12" style="font-size:6.8px;color:#25252b;-webkit-text-stroke:0.22px;transform:translate(120.8px,14.05px) rotate(0.05deg) scaleX(1.0133)">&minus;158.03</div>
<div class="t" id="t13" style="font-size:6.8px;color:#25252b;-webkit-text-stroke:0.22px;transform:translate(148.2px,14.05px) rotate(0.05deg) scaleX(0.9933)">(&minus;1.49%)</div>
<div class="t" id="t14" style="font-size:6.8px;color:#25252b;-webkit-text-stroke:0.22px;transform:translate(178.5px,14.05px) rotate(0.05deg) scaleX(0.8853)"><b>O:</b></div>
<div class="t" id="t15" style="font-size:6.8px;color:#ef5350;-webkit-text-stroke:0.22px;transform:translate(186.8px,14.05px) rotate(0.05deg) scaleX(0.9977)">10779.00</div>
<div class="t" id="t16" style="font-size:6.8px;color:#25252b;-webkit-text-stroke:0.22px;transform:translate(217.8px,14.05px) rotate(0.05deg) scaleX(0.8758)"><b>H:</b></div>
<div class="t" id="t17" style="font-size:6.8px;color:#ef5350;-webkit-text-stroke:0.22px;transform:translate(225.7px,14.05px) rotate(0.05deg) scaleX(1.0300)">10956.11</div>
<div class="t" id="t18" style="font-size:6.8px;color:#25252b;-webkit-text-stroke:0.22px;transform:translate(257.1px,14.05px) rotate(0.05deg) scaleX(0.7001)"><b>L:</b></div>
<div class="t" id="t19" style="font-size:6.8px;color:#ef5350;-webkit-text-stroke:0.22px;transform:translate(262.7px,14.05px) rotate(0.05deg) scaleX(1.0294)">10363.76</div>
<div class="t" id="t20" style="font-size:6.8px;color:#25252b;-webkit-text-stroke:0.22px;transform:translate(294.6px,14.05px) rotate(0.05deg) scaleX(0.7785)"><b>C:</b></div>
<div class="t" id="t21" style="font-size:6.8px;color:#ef5350;-webkit-text-stroke:0.22px;transform:translate(302.0px,14.05px) rotate(0.05deg) scaleX(0.9906)">10459.60</div>
<div class="t" id="t22" style="font-size:6.9px;color:#7c7d84;transform:translate(9px,31.85px) rotate(0.05deg) scaleX(1.0080)">Bitcoin / U.S. Dollar, 1W, COINBASE</div>
<div class="t" id="t23" style="font-size:6.9px;color:#55565c;transform:translate(9px,41.20px) rotate(0.05deg) scaleX(0.9976)">EMA (200, close, 0)</div>
<div class="t" id="t24" style="font-size:6.9px;color:#55565c;transform:translate(9px,50.90px) rotate(0.05deg) scaleX(0.9991)">EMA (50, close, 0)</div>
<div class="t" id="t25" style="font-size:6.9px;color:#595a60;transform:translate(8.8px,495.00px) rotate(0.05deg) scaleX(0.9652)">RSI (14, close)</div>
<div class="t" id="t26" style="font-size:6.9px;color:#8f929a;transform:translate(987.8px,35.30px) rotate(0.05deg) scaleX(0.9598)">18000.00</div>
<div class="t" id="t27" style="font-size:6.9px;color:#8f929a;transform:translate(987.8px,63.80px) rotate(0.05deg) scaleX(0.9598)">16000.00</div>
<div class="t" id="t28" style="font-size:6.9px;color:#8f929a;transform:translate(987.8px,87.60px) rotate(0.05deg) scaleX(0.9598)">14500.00</div>
<div class="t" id="t29" style="font-size:6.9px;color:#8f929a;transform:translate(987.8px,105.20px) rotate(0.05deg) scaleX(0.9598)">13500.00</div>
<div class="t" id="t30" style="font-size:6.9px;color:#8f929a;transform:translate(987.8px,127.80px) rotate(0.05deg) scaleX(0.9598)">12300.00</div>
<div class="t" id="t31" style="font-size:6.9px;color:#8f929a;transform:translate(987.8px,152.70px) rotate(0.05deg) scaleX(0.9955)">11100.00</div>
<div class="t" id="t32" style="font-size:6.9px;color:#8f929a;transform:translate(987.8px,190.40px) rotate(0.05deg) scaleX(0.9628)">9500.00</div>
<div class="t" id="t33" style="font-size:6.9px;color:#8f929a;transform:translate(987.8px,210.70px) rotate(0.05deg) scaleX(0.9628)">8750.00</div>
<div class="t" id="t34" style="font-size:6.9px;color:#8f929a;transform:translate(987.8px,232.40px) rotate(0.05deg) scaleX(0.9628)">8000.00</div>
<div class="t" id="t35" style="font-size:6.9px;color:#8f929a;transform:translate(987.8px,251.30px) rotate(0.05deg) scaleX(0.9628)">7400.00</div>
<div class="t" id="t36" style="font-size:6.9px;color:#8f929a;transform:translate(987.8px,271.90px) rotate(0.05deg) scaleX(0.9628)">6800.00</div>
<div class="t" id="t37" style="font-size:6.9px;color:#8f929a;transform:translate(987.8px,294.60px) rotate(0.05deg) scaleX(0.9628)">6200.00</div>
<div class="t" id="t38" style="font-size:6.9px;color:#8f929a;transform:translate(987.8px,319.20px) rotate(0.05deg) scaleX(0.9628)">5600.00</div>
<div class="t" id="t39" style="font-size:6.9px;color:#8f929a;transform:translate(987.8px,337.10px) rotate(0.05deg) scaleX(0.9628)">5200.00</div>
<div class="t" id="t40" style="font-size:6.9px;color:#8f929a;transform:translate(987.8px,356.70px) rotate(0.05deg) scaleX(0.9628)">4800.00</div>
<div class="t" id="t41" style="font-size:6.9px;color:#8f929a;transform:translate(987.8px,377.50px) rotate(0.05deg) scaleX(0.9628)">4400.00</div>
<div class="t" id="t42" style="font-size:6.9px;color:#8f929a;transform:translate(987.8px,395.20px) rotate(0.05deg) scaleX(0.9628)">4100.00</div>
<div class="t" id="t43" style="font-size:6.9px;color:#8f929a;transform:translate(987.8px,413.60px) rotate(0.05deg) scaleX(0.9628)">3800.00</div>
<div class="t" id="t44" style="font-size:6.9px;color:#8f929a;transform:translate(987.8px,431.80px) rotate(0.05deg) scaleX(0.9628)">3520.00</div>
<div class="t" id="t45" style="font-size:6.9px;color:#8f929a;transform:translate(987.8px,449.30px) rotate(0.05deg) scaleX(0.9628)">3280.00</div>
<div class="t" id="t46" style="font-size:6.9px;color:#8f929a;transform:translate(987.8px,467.70px) rotate(0.05deg) scaleX(0.9628)">3040.00</div>
<div class="t" id="t47" style="font-size:6.9px;color:#8f929a;transform:translate(987.8px,497.40px) rotate(0.05deg) scaleX(0.9678)">80.00</div>
<div class="t" id="t48" style="font-size:6.9px;color:#8f929a;transform:translate(987.8px,519.70px) rotate(0.05deg) scaleX(0.9678)">70.00</div>
<div class="t" id="t49" style="font-size:6.9px;color:#8f929a;transform:translate(987.8px,542.00px) rotate(0.05deg) scaleX(0.9678)">60.00</div>
<div class="t" id="t50" style="font-size:6.9px;color:#8f929a;transform:translate(987.8px,564.00px) rotate(0.05deg) scaleX(0.9678)">50.00</div>
<div class="t" id="t51" style="font-size:6.9px;color:#8f929a;transform:translate(987.8px,586.00px) rotate(0.05deg) scaleX(0.9678)">40.00</div>
<div class="t" id="t52" style="font-size:6.9px;color:#8f929a;transform:translate(987.8px,608.30px) rotate(0.05deg) scaleX(0.9678)">30.00</div>
<div class="t" id="t53" style="font-size:7.0px;color:#d3d5da;transform:translate(13.299999999999999px,626.85px) rotate(0.05deg) translateX(-50%)">2019</div>
<div class="t" id="t54" style="font-size:6.7px;color:#9c9fa7;transform:translate(77.3px,627.85px) rotate(0.05deg) translateX(-50%)">Mar</div>
<div class="t" id="t55" style="font-size:6.7px;color:#9c9fa7;transform:translate(149.5px,627.85px) rotate(0.05deg) translateX(-50%)">May</div>
<div class="t" id="t56" style="font-size:6.7px;color:#9c9fa7;transform:translate(213.7px,627.85px) rotate(0.05deg) translateX(-50%)">Jul</div>
<div class="t" id="t57" style="font-size:6.7px;color:#9c9fa7;transform:translate(285.9px,627.85px) rotate(0.05deg) translateX(-50%)">Sep</div>
<div class="t" id="t58" style="font-size:6.7px;color:#9c9fa7;transform:translate(358.1px,627.85px) rotate(0.05deg) translateX(-50%)">Nov</div>
<div class="t" id="t59" style="font-size:7.0px;color:#d3d5da;transform:translate(430.5px,626.85px) rotate(0.05deg) translateX(-50%)">2020</div>
<div class="t" id="t60" style="font-size:6.7px;color:#9c9fa7;transform:translate(494.5px,627.85px) rotate(0.05deg) translateX(-50%)">Mar</div>
<div class="t" id="t61" style="font-size:6.7px;color:#9c9fa7;transform:translate(566.7px,627.85px) rotate(0.05deg) translateX(-50%)">May</div>
<div class="t" id="t62" style="font-size:6.7px;color:#9c9fa7;transform:translate(638.9px,627.85px) rotate(0.05deg) translateX(-50%)">Jul</div>
<div class="t" id="t63" style="font-size:6.7px;color:#9c9fa7;transform:translate(711.1px,627.85px) rotate(0.05deg) translateX(-50%)">Sep</div>
<div class="t" id="t64" style="font-size:6.7px;color:#9c9fa7;transform:translate(775.3px,627.85px) rotate(0.05deg) translateX(-50%)">Nov</div>
<div class="t" id="t65" style="font-size:7.0px;color:#d3d5da;transform:translate(847.7px,626.85px) rotate(0.05deg) translateX(-50%)">2021</div>
<div class="t" id="t66" style="font-size:6.7px;color:#9c9fa7;transform:translate(911.7px,627.85px) rotate(0.05deg) translateX(-50%)">Mar</div>
<div class="t" id="t67" style="font-size:6.9px;color:#3f97e6;font-weight:bold;transform:translate(850.0px,98.25px) rotate(0.05deg) scaleX(0.9602)">1(13874.79)</div>
<div class="t" id="t68" style="font-size:6.9px;color:#3f97e6;font-weight:bold;transform:translate(850.0px,139.00px) rotate(0.05deg) scaleX(0.9680)">0.786(11731.32)</div>
<div class="t" id="t69" style="font-size:6.9px;color:#3f97e6;font-weight:bold;transform:translate(850.0px,176.70px) rotate(0.05deg) scaleX(0.9608)">0.618(10048.60)</div>
<div class="t" id="t70" style="font-size:6.9px;color:#3f97e6;font-weight:bold;transform:translate(850.0px,207.00px) rotate(0.05deg) scaleX(0.9697)">0.5(8866.69)</div>
<div class="t" id="t71" style="font-size:6.9px;color:#3f97e6;font-weight:bold;transform:translate(850.0px,242.05px) rotate(0.05deg) scaleX(0.9774)">0.382(7684.77)</div>
<div class="t" id="t72" style="font-size:6.9px;color:#3f97e6;font-weight:bold;transform:translate(850.0px,293.30px) rotate(0.05deg) scaleX(0.9774)">0.236(6222.41)</div>
<div class="t" id="t73" style="font-size:6.9px;color:#3f97e6;font-weight:bold;transform:translate(850.0px,409.45px) rotate(0.05deg) scaleX(0.9655)">0(3858.58)</div>
<div class="t" id="t74" style="font-size:6.6px;color:#fff;transform:translate(987.8px,167.30px) rotate(0.05deg) scaleX(1.0029)">10459.60</div>
<div class="t" id="t75" style="font-size:6.6px;color:#fff;transform:translate(995.2px,176.60px) rotate(0.05deg) scaleX(1.0160)">2d 13h</div>
<svg class="t" style="left:985px;top:25px" width="35" height="20" viewBox="985 25 35 20"><rect x="992.5" y="28.9" width="17.6" height="10.4" rx="2" ry="2" fill="#000" stroke="#2c2e36" stroke-width="0.9"/></svg>
<div class="t" id="t76" style="font-size:6.8px;color:#b4b7bf;transform:translate(995.9px,31.30px) rotate(0.05deg) scaleX(0.7727)">USD</div>
<div class="t" id="t77" style="font-size:7.0px;color:#33333c;font-weight:bold;transform:translate(19.5px,644.70px) rotate(0.05deg) scaleX(0.9631)">TradingView</div>
</div></body></html>
